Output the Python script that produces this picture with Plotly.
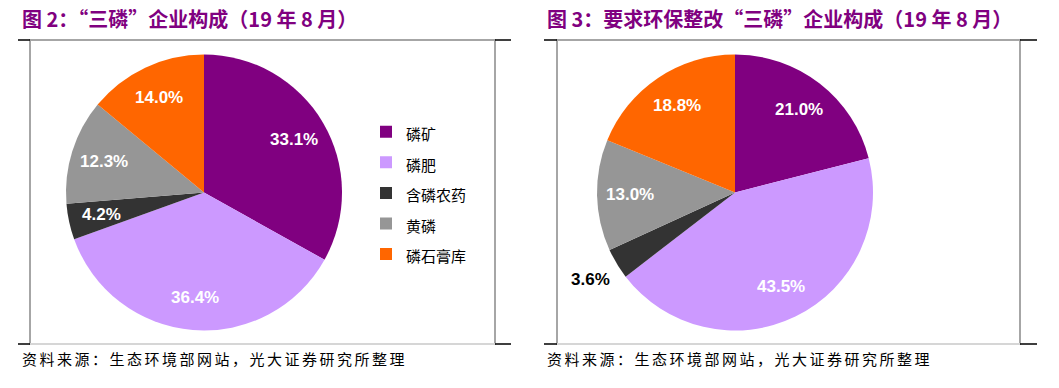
import math
import plotly.graph_objects as go

W, H = 1059, 388

# ---------------- data ----------------
categories = ["磷矿", "磷肥", "含磷农药", "黄磷", "磷石膏库"]
share_all = [33.1, 36.4, 4.2, 12.3, 14.0]          # 图2 “三磷”企业构成
share_rectify = [21.0, 43.5, 3.6, 13.0, 18.8]      # 图3 要求环保整改“三磷”企业构成
colors = ["#800080", "#CC99FF", "#333333", "#969696", "#FF6600"]
title_left = "图 2：“三磷”企业构成（19 年 8 月）"
title_right = "图 3：要求环保整改“三磷”企业构成（19 年 8 月）"
source_text = "资料来源：生态环境部网站，光大证券研究所整理"

CJK = "Noto Sans CJK SC"
ARIAL = "Liberation Sans, Arial"


def px(x):
    return x / W


def py(y):
    return 1 - y / H


# panel geometry (pixels)
panels = [
    dict(values=share_all, cx=204, cy=192.5, r=138, box=(30, 495), tick=(18, 511),
         title=title_left, tx=20, legend="legend", lx=366),
    dict(values=share_rectify, cx=735, cy=192.5, r=138, box=(557, 1020), tick=(544, 1037),
         title=title_right, tx=545, legend="legend2", lx=891),
]

fig = go.Figure()
shapes = []
annotations = []

for p in panels:
    cx, cy, r = p["cx"], p["cy"], p["r"]
    fig.add_trace(go.Pie(
        labels=[f'<span style="font-size:15px">{c}</span>' for c in categories],
        values=p["values"],
        sort=False,
        direction="clockwise",
        rotation=0,
        marker=dict(colors=colors, line=dict(width=0)),
        textinfo="none",
        hoverinfo="label+percent",
        domain=dict(x=[px(cx - r), px(cx + r)], y=[py(cy + r), py(cy - r)]),
        legend=p["legend"],
        showlegend=True,
    ))
    # data labels from cumulative values
    total = sum(p["values"])
    cum = 0.0
    for v in p["values"]:
        frac = (cum + v / 2) / total
        cum += v
        th = 2 * math.pi * frac
        outside = v < 4.0
        k = 1.22 if outside else 0.76
        x = cx + k * r * math.sin(th)
        y = cy - k * r * math.cos(th)
        annotations.append(dict(
            x=px(x), y=py(y), xref="paper", yref="paper", showarrow=False,
            text=f"{v:.1f}%", xanchor="center", yanchor="middle",
            font=dict(family=ARIAL, size=17, color="#000000" if outside else "#FFFFFF", weight=700),
        ))
    # frame
    x0, x1 = p["box"]
    t0, t1 = p["tick"]
    top, bot = 40, 344
    shapes += [
        dict(type="rect", xref="paper", yref="paper", x0=px(x0), x1=px(x1), y0=py(bot), y1=py(top),
             line=dict(color="#A6A6A6", width=2), fillcolor="rgba(0,0,0,0)"),
        dict(type="path", xref="paper", yref="paper",
             path=f"M{px(x0)},{py(bot)} L{px(x1)},{py(bot)}",
             line=dict(color="#D6D6D6", width=2)),
        dict(type="path", xref="paper", yref="paper",
             path=f"M{px(t0)},{py(top)} L{px(x0)},{py(top)} M{px(x1)},{py(top)} L{px(t1)},{py(top)}"
                  f" M{px(t0)},{py(bot)} L{px(x0)},{py(bot)} M{px(x1)},{py(bot)} L{px(t1)},{py(bot)}",
             line=dict(color="#000000", width=1.5)),
    ]
    # title
    annotations.append(dict(
        x=px(p["tx"]), y=py(18), xref="paper", yref="paper", showarrow=False,
        text=p["title"], xanchor="left", yanchor="middle",
        font=dict(family=CJK, size=20, color="#800080", weight=700),
    ))
    # source
    annotations.append(dict(
        x=px(p["tx"]), y=py(358), xref="paper", yref="paper", showarrow=False,
        text=f'<span style="letter-spacing:2.5px">{source_text}</span>',
        xanchor="left", yanchor="middle",
        font=dict(family=CJK, size=15, color="#000000"),
    ))

legend_common = dict(
    font=dict(family=CJK, size=21.2, color="#000000"),
    bgcolor="rgba(0,0,0,0)", borderwidth=0,
    xanchor="left", yanchor="middle", y=py(193),
    itemclick=False, itemdoubleclick=False,
)

fig.update_layout(
    width=W, height=H, autosize=False,
    margin=dict(l=0, r=0, t=0, b=0),
    paper_bgcolor="#FFFFFF", plot_bgcolor="#FFFFFF",
    shapes=shapes, annotations=annotations,
    legend=dict(x=px(panels[0]["lx"]), **legend_common),
    legend2=dict(x=px(panels[1]["lx"]), **legend_common),
)

fig.write_html(
    "out.html",
    config={"displayModeBar": False},
    post_script="document.body.style.margin='0';document.body.style.padding='0';",
)
